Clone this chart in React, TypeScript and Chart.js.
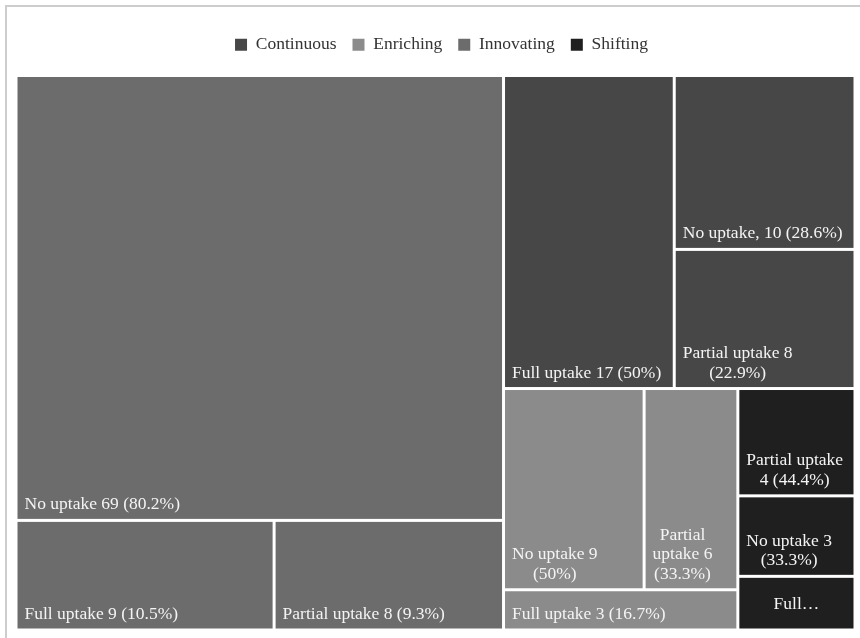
import React, { useEffect, useRef } from 'react';
import { Chart, registerables } from 'chart.js';

Chart.register(...registerables);

// ---- data ----
const groupNames = ['Continuous', 'Enriching', 'Innovating', 'Shifting'];
const groupColors = ['#474747', '#8b8b8b', '#6c6c6c', '#1f1f1f'];

const continuousLabels = ['Full uptake 17 (50%)', 'No uptake, 10 (28.6%)', 'Partial uptake 8 (22.9%)'];
const continuousValues = [17, 10, 8];

const enrichingLabels = ['No uptake 9 (50%)', 'Partial uptake 6 (33.3%)', 'Full uptake 3 (16.7%)'];
const enrichingValues = [9, 6, 3];

const innovatingLabels = ['No uptake 69 (80.2%)', 'Full uptake 9 (10.5%)', 'Partial uptake 8 (9.3%)'];
const innovatingValues = [69, 9, 8];

const shiftingLabels = ['Partial uptake 4 (44.4%)', 'No uptake 3 (33.3%)', 'Full uptake 2 (22.2%)'];
const shiftingValues = [4, 3, 2];

const leafLabels = [continuousLabels, enrichingLabels, innovatingLabels, shiftingLabels];
const leafValues = [continuousValues, enrichingValues, innovatingValues, shiftingValues];

// ---- layout helpers ----
const RATIO = 1.09;
const FONT = '"Liberation Serif", "Times New Roman", serif';

type Rect = { x0: number; y0: number; x1: number; y1: number };

function squarify(values: number[], ratio: number, rx0: number, ry0: number, rx1: number, ry1: number): Rect[] {
  const n = values.length;
  const order = values.map((_, i) => i).sort((a, b) => values[b] - values[a]);
  const out: Rect[] = new Array(n);
  let value = values.reduce((s, v) => s + v, 0);
  let x0 = rx0, y0 = ry0;
  const x1 = rx1, y1 = ry1;
  let i0 = 0, i1 = 0;
  while (i0 < n) {
    const dx = x1 - x0, dy = y1 - y0;
    let sumValue = values[order[i1++]];
    let minV = sumValue, maxV = sumValue;
    const alpha = Math.max(dy / dx, dx / dy) / (value * ratio);
    let beta = sumValue * sumValue * alpha;
    let minRatio = Math.max(maxV / beta, beta / minV);
    for (; i1 < n; ++i1) {
      const nv = values[order[i1]];
      sumValue += nv;
      if (nv < minV) minV = nv;
      if (nv > maxV) maxV = nv;
      beta = sumValue * sumValue * alpha;
      const newRatio = Math.max(maxV / beta, beta / minV);
      if (newRatio > minRatio) { sumValue -= nv; break; }
      minRatio = newRatio;
    }
    if (dx < dy) {
      const yy = y0 + dy * sumValue / value;
      let x = x0;
      for (let k = i0; k < i1; k++) {
        const w = dx * values[order[k]] / sumValue;
        out[order[k]] = { x0: x, y0, x1: x + w, y1: yy };
        x += w;
      }
      y0 = yy;
    } else {
      const xx = x0 + dx * sumValue / value;
      let y = y0;
      for (let k = i0; k < i1; k++) {
        const h = dy * values[order[k]] / sumValue;
        out[order[k]] = { x0, y0: y, x1: xx, y1: y + h };
        y += h;
      }
      x0 = xx;
    }
    value -= sumValue;
    i0 = i1;
  }
  return out;
}

function wrapText(ctx: CanvasRenderingContext2D, text: string, maxW: number): string[] {
  const words = text.split(' ');
  const lines: string[] = [];
  let cur = '';
  for (const w of words) {
    const test = cur ? cur + ' ' + w : w;
    if (!cur || ctx.measureText(test).width <= maxW) cur = test;
    else { lines.push(cur); cur = w; }
  }
  if (cur) lines.push(cur);
  return lines;
}

const treemapPlugin = {
  id: 'treemapCells',
  afterLayout(chart: any) {
    if (chart.legend) {
      chart.legend.left += 6;
      chart.legend.right += 6;
    }
  },
  afterDatasetsDraw(chart: any) {
    const { ctx, chartArea, scales } = chart;
    const xs = scales.x, ys = scales.y;
    const W = chartArea.right - chartArea.left;
    const H = chartArea.bottom - chartArea.top;
    const totals = leafValues.map(v => v.reduce((s, a) => s + a, 0));
    const groupRects = squarify(totals, RATIO, 0, 0, W, H);
    const GAP = 1.5;
    const LINE = 19.5;
    ctx.save();
    groupRects.forEach((gr, g) => {
      const rects = squarify(leafValues[g], RATIO, gr.x0, gr.y0, gr.x1, gr.y1);
      rects.forEach((r, i) => {
        const px0 = xs.getPixelForValue(r.x0 / W * 100) + GAP;
        const px1 = xs.getPixelForValue(r.x1 / W * 100) - GAP;
        const py0 = ys.getPixelForValue(r.y0 / H * 100) + GAP;
        const py1 = ys.getPixelForValue(r.y1 / H * 100) - GAP;
        ctx.fillStyle = groupColors[g];
        ctx.fillRect(px0, py0, px1 - px0, py1 - py0);

        // label
        ctx.font = '17.5px ' + FONT;
        ctx.fillStyle = '#f4f4f4';
        ctx.textBaseline = 'middle';
        ctx.textAlign = 'center';
        const cw = px1 - px0, ch = py1 - py0;
        const lines = wrapText(ctx, leafLabels[g][i], cw - 12);
        if (lines.length * LINE + 14 > ch) {
          const first = lines[0].split(' ')[0] + '\u2026';
          ctx.fillText(first, (px0 + px1) / 2, (py0 + py1) / 2 + 1);
        } else {
          const blockW = Math.max(...lines.map(l => ctx.measureText(l).width));
          const cx = px0 + 7 + blockW / 2;
          lines.forEach((l, k) => {
            const y = py1 - 14 - (lines.length - 1 - k) * LINE;
            ctx.fillText(l, cx, y);
          });
        }
      });
    });
    ctx.restore();
  },
};

export default function App() {
  const ref = useRef<HTMLCanvasElement | null>(null);
  useEffect(() => {
    if (!ref.current) return;
    const chart = new Chart(ref.current, {
      type: 'scatter',
      data: {
        datasets: groupNames.map((name, i) => ({
          label: name,
          data: [],
          backgroundColor: groupColors[i],
          borderColor: groupColors[i],
          borderWidth: 0,
        })),
      },
      options: {
        responsive: false,
        animation: false,
        layout: { padding: { left: 16, right: 5, top: 20, bottom: 8 } },
        scales: {
          x: {
            type: 'linear', min: 0, max: 100, position: 'top',
            grid: { display: false }, border: { display: false }, ticks: { display: false },
            afterFit: (s: any) => { s.height = 12; },
          },
          y: { type: 'linear', min: 0, max: 100, reverse: true, display: false },
        },
        plugins: {
          legend: {
            position: 'top',
            labels: {
              boxWidth: 12, boxHeight: 12, padding: 16, color: '#333',
              font: { family: FONT, size: 17.5 },
            },
          },
          tooltip: { enabled: false },
        },
      },
      plugins: [treemapPlugin],
    } as any);
    return () => chart.destroy();
  }, []);

  return (
    <div style={{ position: 'absolute', left: 0, top: 0, width: 860, height: 638, background: '#fff', overflow: 'hidden' }}>
      <div style={{ position: 'absolute', left: 5, top: 5, width: 855, height: 633, borderTop: '2px solid #cdcdcd', borderLeft: '2px solid #cdcdcd', boxSizing: 'border-box' }} />
      <canvas ref={ref} width={860} height={638} style={{ position: 'absolute', left: 0, top: 0, width: 860, height: 638 }} />
    </div>
  );
}
